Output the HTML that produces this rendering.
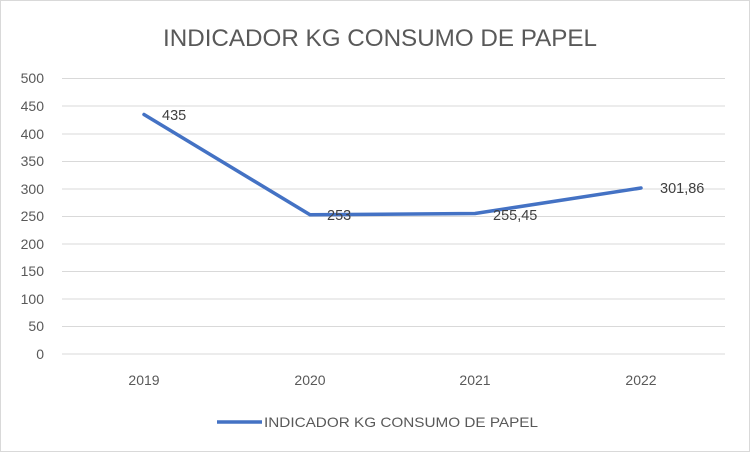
<!DOCTYPE html>
<html><head><style>
body{margin:0;background:#fff;}
svg{display:block;font-family:"Liberation Sans",sans-serif;}
</style></head><body>
<svg width="750" height="452" viewBox="0 0 750 452">
<rect x="0.5" y="0.5" width="749" height="451" fill="#fff" stroke="#d9d9d9"/>
<text x="163" y="46" font-size="24" fill="#595959" textLength="434" lengthAdjust="spacingAndGlyphs">INDICADOR KG CONSUMO DE PAPEL</text>
<g stroke="#d9d9d9" stroke-width="1">
<line x1="62" x2="725" y1="78.5" y2="78.5"/>
<line x1="62" x2="725" y1="106" y2="106"/>
<line x1="62" x2="725" y1="134" y2="134"/>
<line x1="62" x2="725" y1="161.5" y2="161.5"/>
<line x1="62" x2="725" y1="189" y2="189"/>
<line x1="62" x2="725" y1="216.5" y2="216.5"/>
<line x1="62" x2="725" y1="244" y2="244"/>
<line x1="62" x2="725" y1="271.5" y2="271.5"/>
<line x1="62" x2="725" y1="299" y2="299"/>
<line x1="62" x2="725" y1="326.5" y2="326.5"/>
<line x1="62" x2="725" y1="354" y2="354"/>
</g>
<g font-size="14" fill="#595959" text-anchor="end">
<text x="44" y="83">500</text><text x="44" y="111">450</text><text x="44" y="139">400</text>
<text x="44" y="166">350</text><text x="44" y="194">300</text><text x="44" y="221">250</text>
<text x="44" y="249">200</text><text x="44" y="276">150</text><text x="44" y="304">100</text>
<text x="44" y="331">50</text><text x="44" y="359">0</text>
</g>
<g font-size="14" fill="#595959" text-anchor="middle">
<text x="144" y="385">2019</text><text x="310" y="385">2020</text><text x="475" y="385">2021</text><text x="641" y="385">2022</text>
</g>
<polyline points="144,114.5 310,214.8 475,213.5 641,188" fill="none" stroke="#4472c4" stroke-width="3.5" stroke-linejoin="round" stroke-linecap="round"/>
<g font-size="14.5" fill="#404040">
<text x="162" y="120">435</text><text x="327" y="220">253</text><text x="493" y="220">255,45</text><text x="660" y="193">301,86</text>
</g>
<line x1="217" x2="262" y1="422" y2="422" stroke="#4472c4" stroke-width="3.5"/>
<text x="264" y="427" font-size="14" fill="#595959" textLength="274" lengthAdjust="spacingAndGlyphs">INDICADOR KG CONSUMO DE PAPEL</text>
</svg>
</body></html>
